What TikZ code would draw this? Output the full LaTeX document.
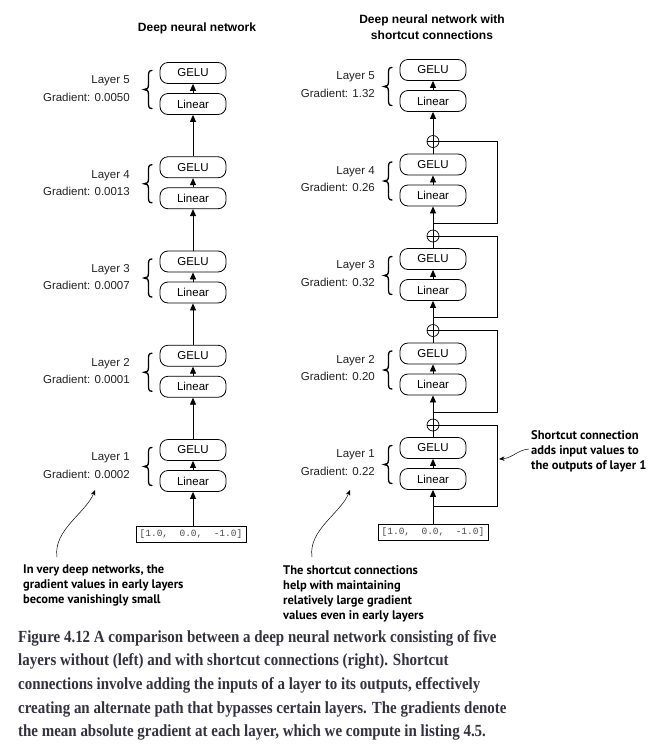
\documentclass[tikz,border=0pt]{standalone}
\usepackage{fontspec}
\setmainfont{Liberation Sans}
\setmonofont{Liberation Mono}
\newfontfamily\notefont{PT Sans}
\newfontfamily\capfont[FakeStretch=0.88]{Liberation Serif}
\usetikzlibrary{arrows.meta}
\definecolor{capgray}{HTML}{33323F}
\definecolor{codegray}{HTML}{4A4A4A}
\definecolor{inkgray}{HTML}{222222}

\tikzset{
	block/.style = {draw, rounded corners = 8pt, line width = 0.8pt, minimum width = 66pt, minimum height = 21pt, inner sep = 0pt, font = \fontsize{11.5}{13}\selectfont},
	inbox/.style = {draw, line width = 0.8pt, minimum width = 110pt, minimum height = 16pt, inner sep = 0pt, text = codegray, font = \ttfamily\fontsize{9.5}{11}\selectfont},
	lab/.style = {anchor = east, inner sep = 0pt, text = inkgray, font = \fontsize{11.5}{13}\selectfont},
	plus/.style = {draw, circle, line width = 0.7pt, minimum size = 12pt, inner sep = 0pt,
		path picture = {\draw[line width = 0.7pt] (path picture bounding box.north) -- (path picture bounding box.south) (path picture bounding box.west) -- (path picture bounding box.east);}},
	flow/.style = {-{Triangle[width = 6pt, length = 7pt]}, line width = 0.8pt},
	wire/.style = {line width = 0.8pt},
	note/.style = {anchor = north west, align = left, inner sep = 0pt, font = \notefont\bfseries\fontsize{12.5}{15}\selectfont},
	hint/.style = {-{Stealth[width = 4.5pt, length = 5.5pt]}, line width = 0.5pt},
	title/.style = {align = center, inner sep = 0pt, font = \bfseries\fontsize{12}{16}\selectfont},
	pics/curly/.style = {code = {
		\draw[line width = 1.3pt, line cap = round]
			(4,-19) .. controls (0.5,-19) and (0.5,-17) .. (0.5,-12) -- (0.5,-5)
			.. controls (0.5,-1) and (-1,0) .. (-4,0)
			.. controls (-1,0) and (0.5,1) .. (0.5,5) -- (0.5,12)
			.. controls (0.5,17) and (0.5,19) .. (4,19);
	}}
}

\begin{document}
\begin{tikzpicture}[x = 1pt, y = -1pt]
	\useasboundingbox (0,0) rectangle (663,756);

	% titles
	\node[title] (ltitle) at (197,28) {Deep neural network};
	\node[title] (rtitle) at (432,27) {Deep neural network with\\shortcut connections};

	% plain network
	\foreach \k/\g in {5/0.0050, 4/0.0013, 3/0.0007, 2/0.0001, 1/0.0002} {
		\pgfmathsetmacro\y{73 + (5 - \k)*94.25}
		\node[block] (lgelu\k) at (193,\y) {GELU};
		\node[block] (llin\k) at (193,\y + 31) {Linear};
		\pic (lbr\k) at (148,\y + 16.5) {curly};
		\node[lab] (llay\k) at (130,\y + 8) {Layer \k};
		\node[lab] (lgrad\k) at (130,\y + 24) {Gradient: \g};
		\draw[flow] (llin\k) -- (lgelu\k);
	}
	\foreach \k in {1,...,4} {
		\pgfmathtruncatemacro\n{\k + 1}
		\draw[flow] (lgelu\k) -- (llin\n);
	}
	\node[inbox] (lx) at (191,534) {[1.0,~~0.0,~~-1.0]};
	\draw[flow] (lx.north -| llin1.south) -- (llin1.south);

	% network with shortcuts
	\foreach \k/\g in {5/1.32, 4/0.26, 3/0.32, 2/0.20, 1/0.22} {
		\pgfmathsetmacro\y{70 + (5 - \k)*94.5}
		\node[block] (rgelu\k) at (433,\y) {GELU};
		\node[block] (rlin\k) at (433,\y + 31) {Linear};
		\pic (rbr\k) at (388,\y + 16.5) {curly};
		\node[lab] (rlay\k) at (375,\y + 7) {Layer \k};
		\node[lab] (rgrad\k) at (375,\y + 23) {Gradient: \g};
		\draw[flow] (rlin\k) -- (rgelu\k);
	}
	\foreach \k in {1,...,4} {
		\pgfmathsetmacro\y{70 + (5 - \k)*94.5}
		\pgfmathtruncatemacro\n{\k + 1}
		\node[plus] (rplus\k) at (433,\y - 23) {};
		\coordinate (rtap\k) at (433,\y + 58.5);
		\coordinate (rturn\k) at (497,\y + 58.5);
		\draw[wire] (rgelu\k) -- (rplus\k);
		\draw[flow] (rplus\k) -- (rlin\n);
		\draw[wire] (rplus\k) -| (rturn\k) -- (rtap\k);
	}
	\node[inbox] (rx) at (433,532) {[1.0,~~0.0,~~-1.0]};
	\draw[flow] (rx) -- (rlin1);

	% notes
	\node[note] (lnote) at (23,565) {In very deep networks, the\\gradient values in early layers\\become vanishingly small};
	\node[note] (rnote) at (283,565) {The shortcut connections\\help with maintaining\\relatively large gradient\\values even in early layers};
	\node[note] (snote) at (531,430) {Shortcut connection\\adds input values to\\the outputs of layer 1};
	\coordinate (lhint) at (57,557);
	\coordinate (lgoal) at (95,490);
	\coordinate (rhint) at (312,557);
	\coordinate (rgoal) at (350,490);
	\coordinate (shint) at (529,449);
	\coordinate (sgoal) at (499,459);
	\draw[hint] (lhint) .. controls (53,530) and (86,513) .. (lgoal);
	\draw[hint] (rhint) .. controls (308,530) and (341,513) .. (rgoal);
	\draw[hint] (shint) .. controls (517,450) and (513,458) .. (sgoal);

	% caption
	\node[anchor = north west, align = left, inner sep = 0pt, text = capgray, font = \capfont\bfseries\fontsize{17}{23.7}\selectfont] (caption) at (18,630) {Figure 4.12 A comparison between a deep neural network consisting of five\\layers without (left) and with shortcut connections (right). Shortcut\\connections involve adding the inputs of a layer to its outputs, effectively\\creating an alternate path that bypasses certain layers. The gradients denote\\the mean absolute gradient at each layer, which we compute in listing 4.5.};
\end{tikzpicture}
\end{document}
